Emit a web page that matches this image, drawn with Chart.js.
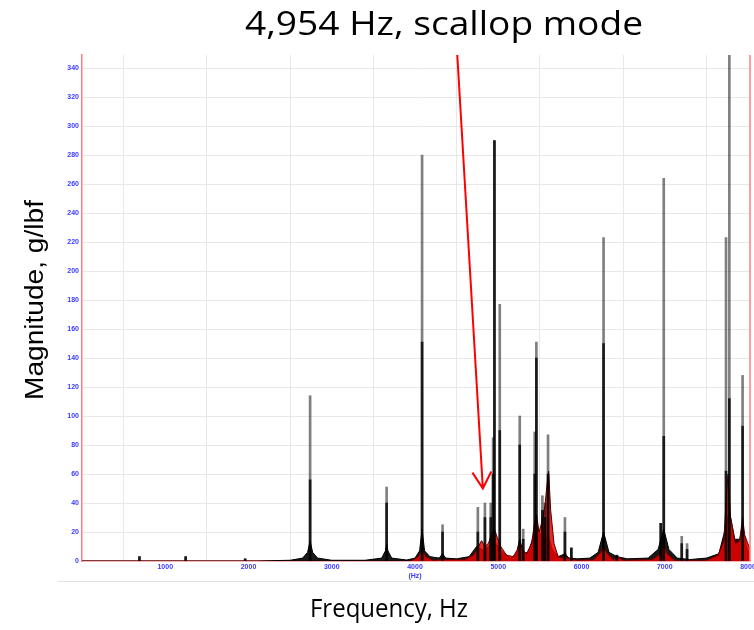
<!DOCTYPE html>
<html>
<head>
<meta charset="utf-8">
<script src="https://cdn.jsdelivr.net/npm/chart.js@4.4.1/dist/chart.umd.min.js"></script>
<style>
  body { margin: 0; background: #fff; }
</style>
</head>
<body>
<canvas id="myChart" width="754" height="630"></canvas>
<script>
// axis ticks
var freqTicks = [1000, 2000, 3000, 4000, 5000, 6000, 7000, 8000];
var magTicks = [0, 20, 40, 60, 80, 100, 120, 140, 160, 180, 200, 220, 240, 260, 280, 300, 320, 340];

// resonance spikes: frequency (Hz), top of the faint trace, top of the dense trace
var peakHz   = [690, 1245, 1960, 2740, 3659, 4085, 4331, 4755, 4840, 4910, 4938, 4954, 5018,
    5258, 5300, 5438, 5458, 5530, 5560, 5598, 5801, 5878, 6265, 6425, 6952, 6988, 7204,
    7268, 7736, 7776, 7935];
var peakTop  = [3, 3, 1.5, 114, 51, 280, 25, 37, 40, 40, 85, 290, 177,
    100, 22, 89, 151, 45, 40, 87, 30, 9, 223, 4, 26, 264, 17,
    12, 223, 360, 128];
var peakCore = [3, 3, 1.5, 56, 40, 151, 20, 20, 30, 30, 60, 290, 90,
    80, 15, 60, 140, 35, 30, 60, 20, 9, 150, 4, 26, 86, 12,
    8, 62, 112, 93];

// black skirts at the foot of the peaks [Hz, g/lbf]
var blackSkirt = [[0, 0], [2100, 0], [2500, 0.5], [2650, 2], [2710, 6], [2740, 14], [2770, 6],
    [2830, 2], [3000, 0.5], [3400, 0.5], [3600, 2], [3645, 7], [3660, 12], [3675, 7],
    [3720, 2], [3900, 0.7], [4000, 2], [4055, 7], [4085, 22], [4115, 7], [4180, 3],
    [4290, 2], [4331, 5], [4370, 2], [4500, 1.5], [4650, 3], [4740, 10], [4800, 8],
    [4850, 8], [4950, 14], [5050, 6], [5150, 2], [5220, 5], [5258, 15], [5300, 5],
    [5360, 6], [5440, 20], [5460, 25], [5530, 15], [5600, 18], [5650, 8], [5720, 3],
    [5801, 5], [5850, 2], [5950, 1.5], [6100, 2], [6200, 6], [6265, 20], [6330, 6],
    [6425, 3], [6550, 1.5], [6800, 2], [6920, 8], [6988, 22], [7050, 8], [7150, 2],
    [7300, 1], [7500, 2], [7650, 5], [7740, 25], [7776, 35], [7840, 15], [7900, 15],
    [7935, 25], [7980, 10], [8024, 5]];

// red band of the overlaid response curves [Hz, g/lbf]
var redBand = [[3950, 0], [4040, 3], [4085, 8], [4130, 3], [4220, 0.5], [4330, 1], [4600, 1],
    [4700, 4], [4760, 10], [4800, 14], [4840, 10], [4880, 12], [4920, 18], [4954, 22],
    [4990, 16], [5030, 10], [5100, 4], [5180, 3], [5230, 8], [5258, 14], [5290, 8],
    [5340, 5], [5400, 12], [5440, 28], [5460, 32], [5490, 20], [5530, 28], [5560, 38],
    [5590, 55], [5605, 62], [5630, 35], [5670, 12], [5720, 3], [5780, 2], [5801, 6],
    [5830, 2], [5950, 0.5], [6150, 1], [6230, 6], [6265, 11], [6300, 6], [6380, 1],
    [6440, 3], [6500, 0.5], [6850, 1], [6950, 5], [6988, 12], [7030, 5], [7120, 0.5],
    [7500, 0.5], [7640, 4], [7710, 14], [7740, 45], [7760, 60], [7790, 30], [7850, 12],
    [7900, 14], [7935, 30], [7960, 18], [8024, 8]];

// callout arrow, in data units [Hz, g/lbf]
var arrowFrom = [4508, 349];
var arrowTo = [4815, 50];

var titleText = '4,954 Hz, scallop mode';
var xTitle = 'Frequency, Hz';
var yTitle = 'Magnitude, g/lbf';

function toXY(pairs) {
    return pairs.map(function (p) { return {x: p[0], y: p[1]}; });
}
function spikes(vals) {
    return peakHz.map(function (f, i) { return {x: f, y: vals[i]}; });
}

var tickFont = {family: 'Liberation Sans', size: 7, weight: 'bold'};
var tickBlue = '#3a3aff';
var gridGrey = '#e8e8e8';
var axisRed = '#ff7b7b';

// draw text squeezed/stretched to a given width
function fitText(ctx, text, x, y, width) {
    var w = ctx.measureText(text).width;
    ctx.save();
    ctx.translate(x, y);
    ctx.scale(width / w, 1);
    ctx.fillText(text, 0, 0);
    ctx.restore();
}

var decor = {
    id: 'decor',
    afterDatasetsDraw: function (chart) {
        var ctx = chart.ctx, a = chart.chartArea;
        var xs = chart.scales.x, ys = chart.scales.y;
        ctx.save();
        // right frame line
        ctx.strokeStyle = axisRed;
        ctx.lineWidth = 1.5;
        ctx.beginPath();
        ctx.moveTo(a.right, a.top);
        ctx.lineTo(a.right, a.bottom);
        ctx.stroke();
        // arrow
        var x0 = xs.getPixelForValue(arrowFrom[0]), y0 = ys.getPixelForValue(arrowFrom[1]);
        var x1 = xs.getPixelForValue(arrowTo[0]), y1 = ys.getPixelForValue(arrowTo[1]);
        var ang = Math.atan2(y1 - y0, x1 - x0);
        ctx.strokeStyle = '#ff0000';
        ctx.lineWidth = 2;
        ctx.beginPath();
        ctx.moveTo(x0, y0);
        ctx.lineTo(x1, y1);
        ctx.moveTo(x1 - 19 * Math.cos(ang - 0.52), y1 - 19 * Math.sin(ang - 0.52));
        ctx.lineTo(x1, y1);
        ctx.lineTo(x1 - 19 * Math.cos(ang + 0.52), y1 - 19 * Math.sin(ang + 0.52));
        ctx.stroke();
        ctx.restore();
    },
    afterDraw: function (chart) {
        var ctx = chart.ctx;
        ctx.save();
        // faint strip under the axis
        ctx.strokeStyle = '#e2e2e2';
        ctx.lineWidth = 1;
        ctx.beginPath();
        ctx.moveTo(58, 581.5);
        ctx.lineTo(754, 581.5);
        ctx.stroke();

        ctx.fillStyle = '#000';
        ctx.textBaseline = 'alphabetic';
        ctx.textAlign = 'center';
        ctx.font = '33px "Open Sans"';
        fitText(ctx, titleText, 444, 35, 398);
        ctx.textAlign = 'right';
        ctx.font = '25px "Open Sans"';
        fitText(ctx, xTitle, 468, 617, 158);
        ctx.textAlign = 'center';
        ctx.translate(43, 300);
        ctx.rotate(-Math.PI / 2);
        ctx.font = '25px "Liberation Sans"';
        fitText(ctx, yTitle, 0, 0, 200);
        ctx.restore();
    }
};

var ctx = document.getElementById('myChart').getContext('2d');
var myChart = new Chart(ctx, {
    type: 'line',
    data: {
        datasets: [{
            type: 'bar',
            data: spikes(peakCore),
            backgroundColor: 'rgba(0,0,0,0.8)',
            barThickness: 2,
            grouped: false,
            order: 0
        },
        {
            type: 'bar',
            data: spikes(peakTop),
            backgroundColor: 'rgba(0,0,0,0.5)',
            barThickness: 2,
            grouped: false,
            order: 1
        },
        {
            data: toXY(redBand),
            borderColor: '#5a0000',
            backgroundColor: 'rgba(235,0,0,0.85)',
            borderWidth: 1,
            pointRadius: 0,
            tension: 0,
            fill: 'origin',
            order: 2
        },
        {
            data: toXY(blackSkirt),
            borderColor: '#000',
            backgroundColor: 'rgba(0,0,0,0.9)',
            borderWidth: 1,
            pointRadius: 0,
            tension: 0,
            fill: 'origin',
            order: 3
        }]
    },
    options: {
        responsive: false,
        animation: false,
        layout: {padding: {top: 55, right: 4, left: 0, bottom: 0}},
        plugins: {
            legend: {display: false},
            tooltip: {enabled: false}
        },
        scales: {
            x: {
                type: 'linear',
                min: 0,
                max: 8024,
                offset: false,
                ticks: {
                    autoSkip: false,
                    maxRotation: 0,
                    padding: 2,
                    color: tickBlue,
                    font: tickFont,
                    callback: function (v) {
                        return v === 4000 ? ['4000', '(Hz)'] : String(v);
                    }
                },
                grid: {color: gridGrey, drawTicks: false},
                border: {color: axisRed, width: 1.5},
                afterBuildTicks: function (s) {
                    s.ticks = freqTicks.map(function (v) { return {value: v}; });
                },
                afterFit: function (s) {
                    s.height = 69;
                    s.paddingLeft = 0;
                    s.paddingRight = 0;
                }
            },
            y: {
                min: 0,
                max: 349,
                ticks: {
                    autoSkip: false,
                    padding: 3,
                    color: tickBlue,
                    font: tickFont
                },
                grid: {color: gridGrey, drawTicks: false},
                border: {color: axisRed, width: 1.5},
                afterBuildTicks: function (s) {
                    s.ticks = magTicks.map(function (v) { return {value: v}; });
                },
                afterFit: function (s) {
                    s.width = 82;
                    s.paddingTop = 0;
                    s.paddingBottom = 0;
                }
            }
        }
    },
    plugins: [decor]
});
</script>
</body>
</html>
